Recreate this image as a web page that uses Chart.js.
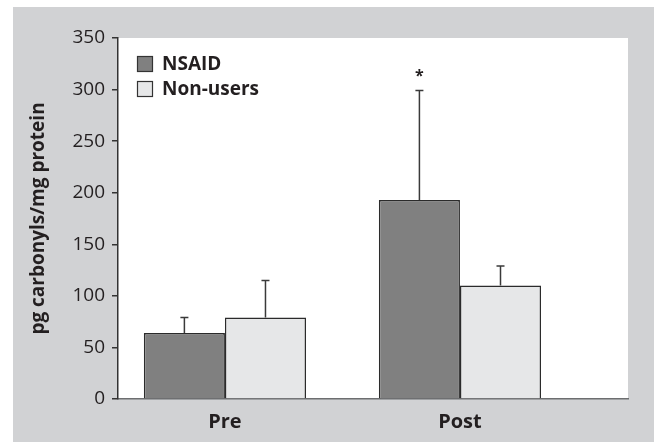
<!DOCTYPE html>
<html>
<head>
<meta charset="utf-8">
<script src="https://cdn.jsdelivr.net/npm/chart.js@4/dist/chart.umd.min.js"></script>
<style>
  html, body { margin: 0; padding: 0; background: #ffffff; }
  #wrap { width: 659px; height: 442px; position: relative; }
</style>
</head>
<body>
<div id="wrap"><canvas id="chart"></canvas></div>
<script>
// Protein carbonyls (pg/mg protein), mean with upward SD whiskers
const categories = ['Pre', 'Post'];
const nsaidMean = [64, 193];
const nsaidSD = [15, 106];
const nonUsersMean = [79, 110];
const nonUsersSD = [36, 19];
const nsaidSignificant = [false, true];
const yTickValues = [0, 50, 100, 150, 200, 250, 300, 350];

const FONT = '"Open Sans", "Noto Sans", sans-serif';
const INK = '#231f20';

const toPoints = arr => arr.map((v, i) => ({ x: i, y: v }));

// Panel backdrop: grey frame with a white plotting field
const backdrop = {
  id: 'backdrop',
  beforeDraw(chart) {
    const { ctx, chartArea: a } = chart;
    ctx.save();
    ctx.fillStyle = '#d1d2d4';
    ctx.fillRect(13, 7, 641, 435);
    ctx.fillStyle = '#ffffff';
    ctx.fillRect(a.left, a.top, a.right - a.left, a.bottom - a.top);
    ctx.restore();
  }
};

// Upward SD whiskers with caps, plus significance asterisk
const whiskers = {
  id: 'whiskers',
  afterDatasetsDraw(chart) {
    const { ctx } = chart;
    const y = chart.scales.y;
    ctx.save();
    chart.data.datasets.forEach((ds, di) => {
      const meta = chart.getDatasetMeta(di);
      meta.data.forEach((bar, i) => {
        const top = ds.data[i].y + ds.sd[i];
        const yTop = y.getPixelForValue(top);
        ctx.strokeStyle = '#3a3a3a';
        ctx.lineWidth = 1.5;
        ctx.beginPath();
        ctx.moveTo(bar.x, bar.y);
        ctx.lineTo(bar.x, yTop);
        ctx.moveTo(bar.x - 4, yTop);
        ctx.lineTo(bar.x + 4, yTop);
        ctx.stroke();
        if (ds.significant && ds.significant[i]) {
          ctx.fillStyle = INK;
          ctx.font = 'bold 16px ' + FONT;
          ctx.textAlign = 'center';
          ctx.textBaseline = 'middle';
          ctx.fillText('*', bar.x, yTop - 14);
        }
      });
    });
    ctx.restore();
  }
};

// Legend boxes drawn inside the plotting field
const boxLegend = {
  id: 'boxLegend',
  afterDraw(chart) {
    const { ctx } = chart;
    ctx.save();
    chart.data.datasets.forEach((ds, i) => {
      const cy = 64 + i * 25;
      ctx.fillStyle = ds.backgroundColor;
      ctx.fillRect(137.5, cy - 7.5, 15, 15);
      ctx.strokeStyle = '#333333';
      ctx.lineWidth = 1.2;
      ctx.strokeRect(137.5, cy - 7.5, 15, 15);
      ctx.fillStyle = INK;
      ctx.font = 'bold 19px ' + FONT;
      ctx.textAlign = 'left';
      ctx.textBaseline = 'middle';
      ctx.fillText(ds.label, 162, cy + 1);
    });
    ctx.restore();
  }
};

new Chart(document.getElementById('chart'), {
  type: 'bar',
  data: {
    datasets: [
      {
        label: 'NSAID',
        data: toPoints(nsaidMean),
        sd: nsaidSD,
        significant: nsaidSignificant,
        backgroundColor: '#808080',
        borderColor: '#2b2b2b',
        borderWidth: 1.5
      },
      {
        label: 'Non-users',
        data: toPoints(nonUsersMean),
        sd: nonUsersSD,
        backgroundColor: '#e6e7e8',
        borderColor: '#2b2b2b',
        borderWidth: 1.5
      }
    ]
  },
  options: {
    responsive: true,
    maintainAspectRatio: false,
    animation: false,
    events: [],
    layout: { padding: { left: 0, right: 31, top: 38, bottom: 0 } },
    datasets: { bar: { categoryPercentage: 0.69, barPercentage: 1.0 } },
    plugins: {
      legend: { display: false },
      tooltip: { enabled: false }
    },
    scales: {
      x: {
        type: 'linear',
        offset: false,
        min: -0.455,
        max: 1.715,
        afterBuildTicks(scale) {
          scale.ticks = categories.map((_, i) => ({ value: i }));
        },
        afterFit(scale) { scale.height = 43; },
        grid: { display: false, drawTicks: false, offset: false },
        border: { display: true, color: '#6d6e70', width: 1.5 },
        ticks: {
          padding: 11,
          color: INK,
          font: { family: FONT, size: 20, weight: 'bold' },
          callback: v => categories[v] ?? ''
        }
      },
      y: {
        min: 0,
        max: 350,
        afterBuildTicks(scale) {
          scale.ticks = yTickValues.map(v => ({ value: v }));
        },
        afterFit(scale) { scale.width = 118; },
        grid: {
          drawOnChartArea: false,
          drawTicks: true,
          tickLength: 6,
          color: '#333333',
          lineWidth: 1.5
        },
        border: { display: true, color: '#333333', width: 1.5 },
        ticks: {
          padding: 7,
          color: INK,
          font: { family: FONT, size: 19 }
        },
        title: {
          display: true,
          text: 'pg carbonyls/mg protein',
          color: INK,
          padding: { top: 27, bottom: 0 },
          font: { family: FONT, size: 19, weight: 'bold' }
        }
      }
    }
  },
  plugins: [backdrop, whiskers, boxLegend]
});
</script>
</body>
</html>
